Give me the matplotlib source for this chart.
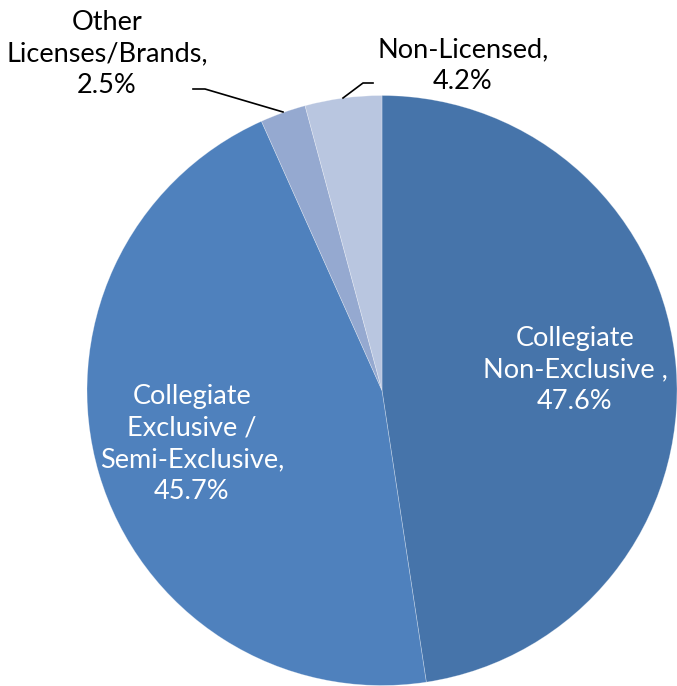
import matplotlib
matplotlib.use("Agg")
import matplotlib.pyplot as plt

categories = ["Collegiate\nNon-Exclusive ,", "Collegiate\nExclusive /\nSemi-Exclusive,", "Other\nLicenses/Brands,", "Non-Licensed,"]
values = [47.6, 45.7, 2.5, 4.2]
colors = ["#4674AA", "#4F81BD", "#95A9D0", "#B9C6E0"]

W, H = 677, 686
R = 295.0
CX, CY = 382.0, 390.5

fig = plt.figure(figsize=(W / 100, H / 100), dpi=100)
ax = fig.add_axes([0, 0, 1, 1])

ax.pie(values, colors=colors, startangle=90, counterclock=False, radius=1.0,
       wedgeprops=dict(edgecolor=(1, 1, 1, 0.35), linewidth=0.5))
ax.set_xlim(-CX / R, (W - CX) / R)
ax.set_ylim((CY - H) / R, CY / R)
ax.set_aspect("equal")
ax.axis("off")

def px(x, y):
    return ((x - CX) / R, (CY - y) / R)

font = "Lato"
fs = 19.5
label_pos = [(575, 370), (192, 444), (107, 54), (463, 66)]
label_col = ["white", "white", "black", "black"]
for cat, v, (lx, ly), c in zip(categories, values, label_pos, label_col):
    x, y = px(lx, ly)
    ax.text(x, y, f"{cat}\n{v}%", ha="center", va="center", color=c,
            fontsize=fs, family=font, linespacing=1.34)

for pts in ([(193, 89), (205, 89), (283, 112)], [(373, 83), (363, 83), (343, 98)]):
    xs, ys = zip(*[px(a, b) for a, b in pts])
    ax.plot(xs, ys, color="black", lw=1.2)

fig.savefig("out.png", dpi=100)
